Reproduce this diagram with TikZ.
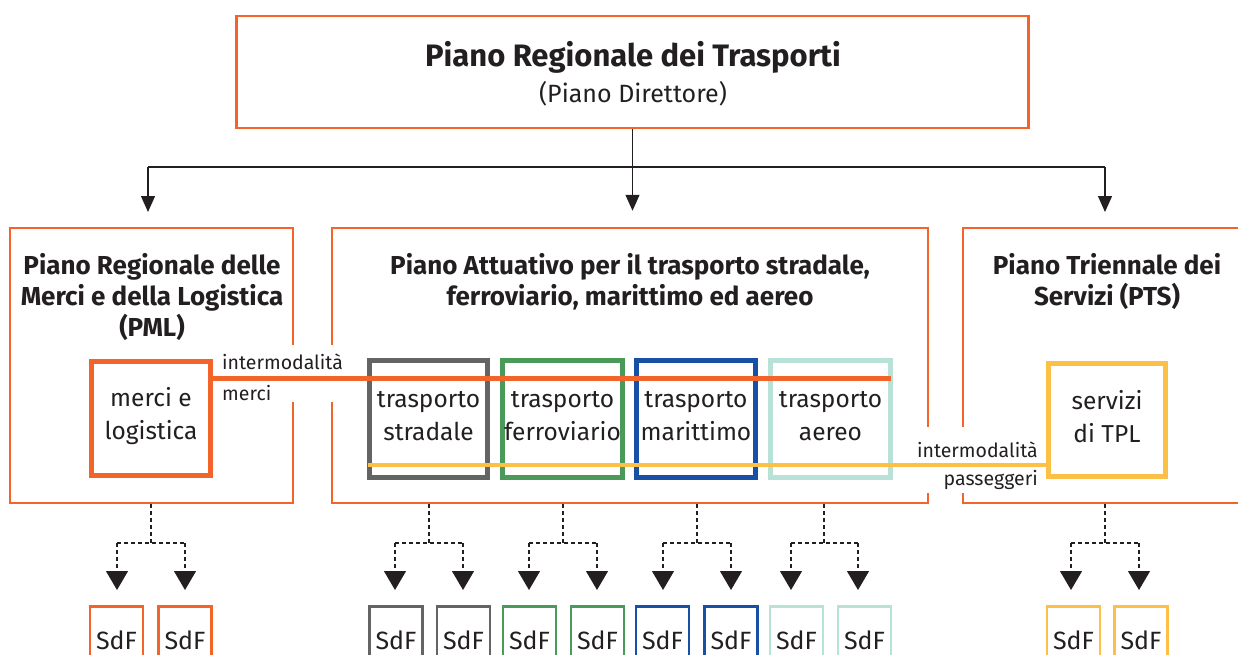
\documentclass[tikz,border=0pt]{standalone}
\usepackage{fontspec}
\setmainfont{Fira Sans}
\usetikzlibrary{arrows.meta}
\definecolor{orgc}{RGB}{242,100,42}
\definecolor{grayc}{RGB}{100,100,100}
\definecolor{greenc}{RGB}{74,155,90}
\definecolor{bluec}{RGB}{24,80,165}
\definecolor{tealc}{RGB}{184,226,216}
\definecolor{yelc}{RGB}{252,192,70}
\definecolor{txt}{RGB}{35,31,32}
\tikzset{
  outerbox/.style={draw=orgc, line width=2.5pt, inner sep=0pt},
  innerbox/.style={line width=5pt, inner sep=0pt, minimum height=117pt},
  sdfbox/.style={line width=2.5pt, inner sep=0pt, minimum width=53pt, minimum height=68pt, anchor=north, font=\fontsize{25}{28}\selectfont, text=txt},
  boldlbl/.style={align=center, text=txt, font=\bfseries\fontsize{26}{31}\selectfont},
  reglbl/.style={align=center, text=txt, font=\fontsize{24.5}{33}\selectfont},
  smalllbl/.style={text=txt, inner sep=0pt, font=\fontsize{19.5}{22}\selectfont},
  conn/.style={draw=txt, line width=1.3pt},
  toparr/.style={conn, -{Triangle[width=14pt,length=16pt]}, shorten >=16pt},
  dconn/.style={draw=txt, line width=1.1pt, dash pattern=on 4pt off 3pt},
  darr/.style={dconn, -{Triangle[width=22pt,length=19pt]}, shorten >=15pt},
}
\begin{document}
\begin{tikzpicture}[x=1pt,y=-1pt]
\useasboundingbox (0,0) rectangle (1238,655);
\clip (0,0) rectangle (1238,655);

% top box
\node[outerbox, minimum width=792pt, minimum height=112pt] (top) at (632.5,72) {};
\node[text=txt, font=\bfseries\fontsize{31}{34}\selectfont] (toptitle) at (633,57) {Piano Regionale dei Trasporti};
\node[text=txt, font=\fontsize{25}{28}\selectfont] (topsub) at (633,94) {(Piano Direttore)};

% second level boxes
\node[outerbox, minimum width=283pt, minimum height=275pt] (pml) at (151.5,365.5) {};
\node[outerbox, minimum width=596pt, minimum height=275pt] (att) at (630,365.5) {};
\node[outerbox, minimum width=297pt, minimum height=275pt] (pts) at (1111.5,365.5) {};

% gaps in borders
\fill[white] (287,345) rectangle (299,402);
\fill[white] (326,345) rectangle (338,402);
\fill[white] (922,427) rectangle (934,493);
\fill[white] (957,427) rectangle (969,493);

\node[boldlbl] (pmlt) at (152,297) {Piano Regionale delle\\Merci e della Logistica\\(PML)};
\node[boldlbl] (attt) at (630,282) {Piano Attuativo per il trasporto stradale,\\ferroviario, marittimo ed aereo};
\node[boldlbl] (ptst) at (1107,282) {Piano Triennale dei\\Servizi (PTS)};

% top connectors
\coordinate (j) at (top.south |- 0,167);
\draw[conn] (top.south) -- (j);
\draw[conn] (148,167) -- (1105,167);
\draw[toparr] (148,167) -- (148,228);
\draw[toparr] (j) -- (att.north -| j);
\draw[toparr] (1105,167) -- (1105,228);

% inner boxes
\node[innerbox, draw=orgc, minimum width=119pt, minimum height=114pt] (merci) at (151,418.5) {};
\node[innerbox, draw=grayc, minimum width=118pt] (strad) at (428.5,419) {};
\node[innerbox, draw=greenc, minimum width=120pt] (ferr) at (562.5,419) {};
\node[innerbox, draw=bluec, minimum width=119pt] (mar) at (696,419) {};
\node[innerbox, draw=tealc, minimum width=120pt] (aer) at (830.5,419) {};
\node[innerbox, draw=yelc, minimum width=117pt, minimum height=113pt] (tpl) at (1107,420) {};

\node[reglbl] at (151,416) {merci e\\logistica};
\node[reglbl] at (428.5,416) {trasporto\\stradale};
\node[reglbl] at (562.5,416) {trasporto\\ferroviario};
\node[reglbl] at (696,416) {trasporto\\marittimo};
\node[reglbl] at (830.5,416) {trasporto\\aereo};
\node[reglbl] at (1107,417) {servizi\\di TPL};

% intermodal lines
\coordinate (oe) at (891,378);
\draw[orgc, line width=5pt] (merci.east |- oe) -- (oe);
\coordinate (ys) at (368,465);
\draw[yelc, line width=4pt] (ys) -- (tpl.west |- ys);

\node[smalllbl, anchor=west] (im1) at (222,362) {intermodalità};
\node[smalllbl, anchor=west] (im2) at (222,393) {merci};
\node[smalllbl, anchor=east] (ip1) at (1038,450) {intermodalità};
\node[smalllbl, anchor=east] (ip2) at (1038,480) {passeggeri};

% SdF boxes
\node[sdfbox, draw=orgc] (s1) at (116.5,605) {SdF};
\node[sdfbox, draw=orgc] (s2) at (185,605) {SdF};
\node[sdfbox, draw=grayc] (s3) at (396,605) {SdF};
\node[sdfbox, draw=grayc] (s4) at (463.5,605) {SdF};
\node[sdfbox, draw=greenc] (s5) at (529.5,605) {SdF};
\node[sdfbox, draw=greenc] (s6) at (597.5,605) {SdF};
\node[sdfbox, draw=bluec] (s7) at (662.5,605) {SdF};
\node[sdfbox, draw=bluec] (s8) at (731,605) {SdF};
\node[sdfbox, draw=tealc] (s9) at (796.5,605) {SdF};
\node[sdfbox, draw=tealc] (s10) at (864.5,605) {SdF};
\node[sdfbox, draw=yelc] (s11) at (1073.5,605) {SdF};
\node[sdfbox, draw=yelc] (s12) at (1141,605) {SdF};

% dashed trees
\foreach \sx/\ax/\bx/\na/\nb in {151/117/185/s1/s2, 429/395/463/s3/s4, 563/529/597/s5/s6, 697/663/731/s7/s8, 824/791/858/s9/s10, 1105/1071/1139/s11/s12}{
  \draw[dconn] (\sx,504) -- (\sx,543);
  \draw[dconn] (\ax,543) -- (\bx,543);
  \draw[darr] (\ax,543) -- (\na.north -| \ax,0);
  \draw[darr] (\bx,543) -- (\nb.north -| \bx,0);
}
\end{tikzpicture}
\end{document}
